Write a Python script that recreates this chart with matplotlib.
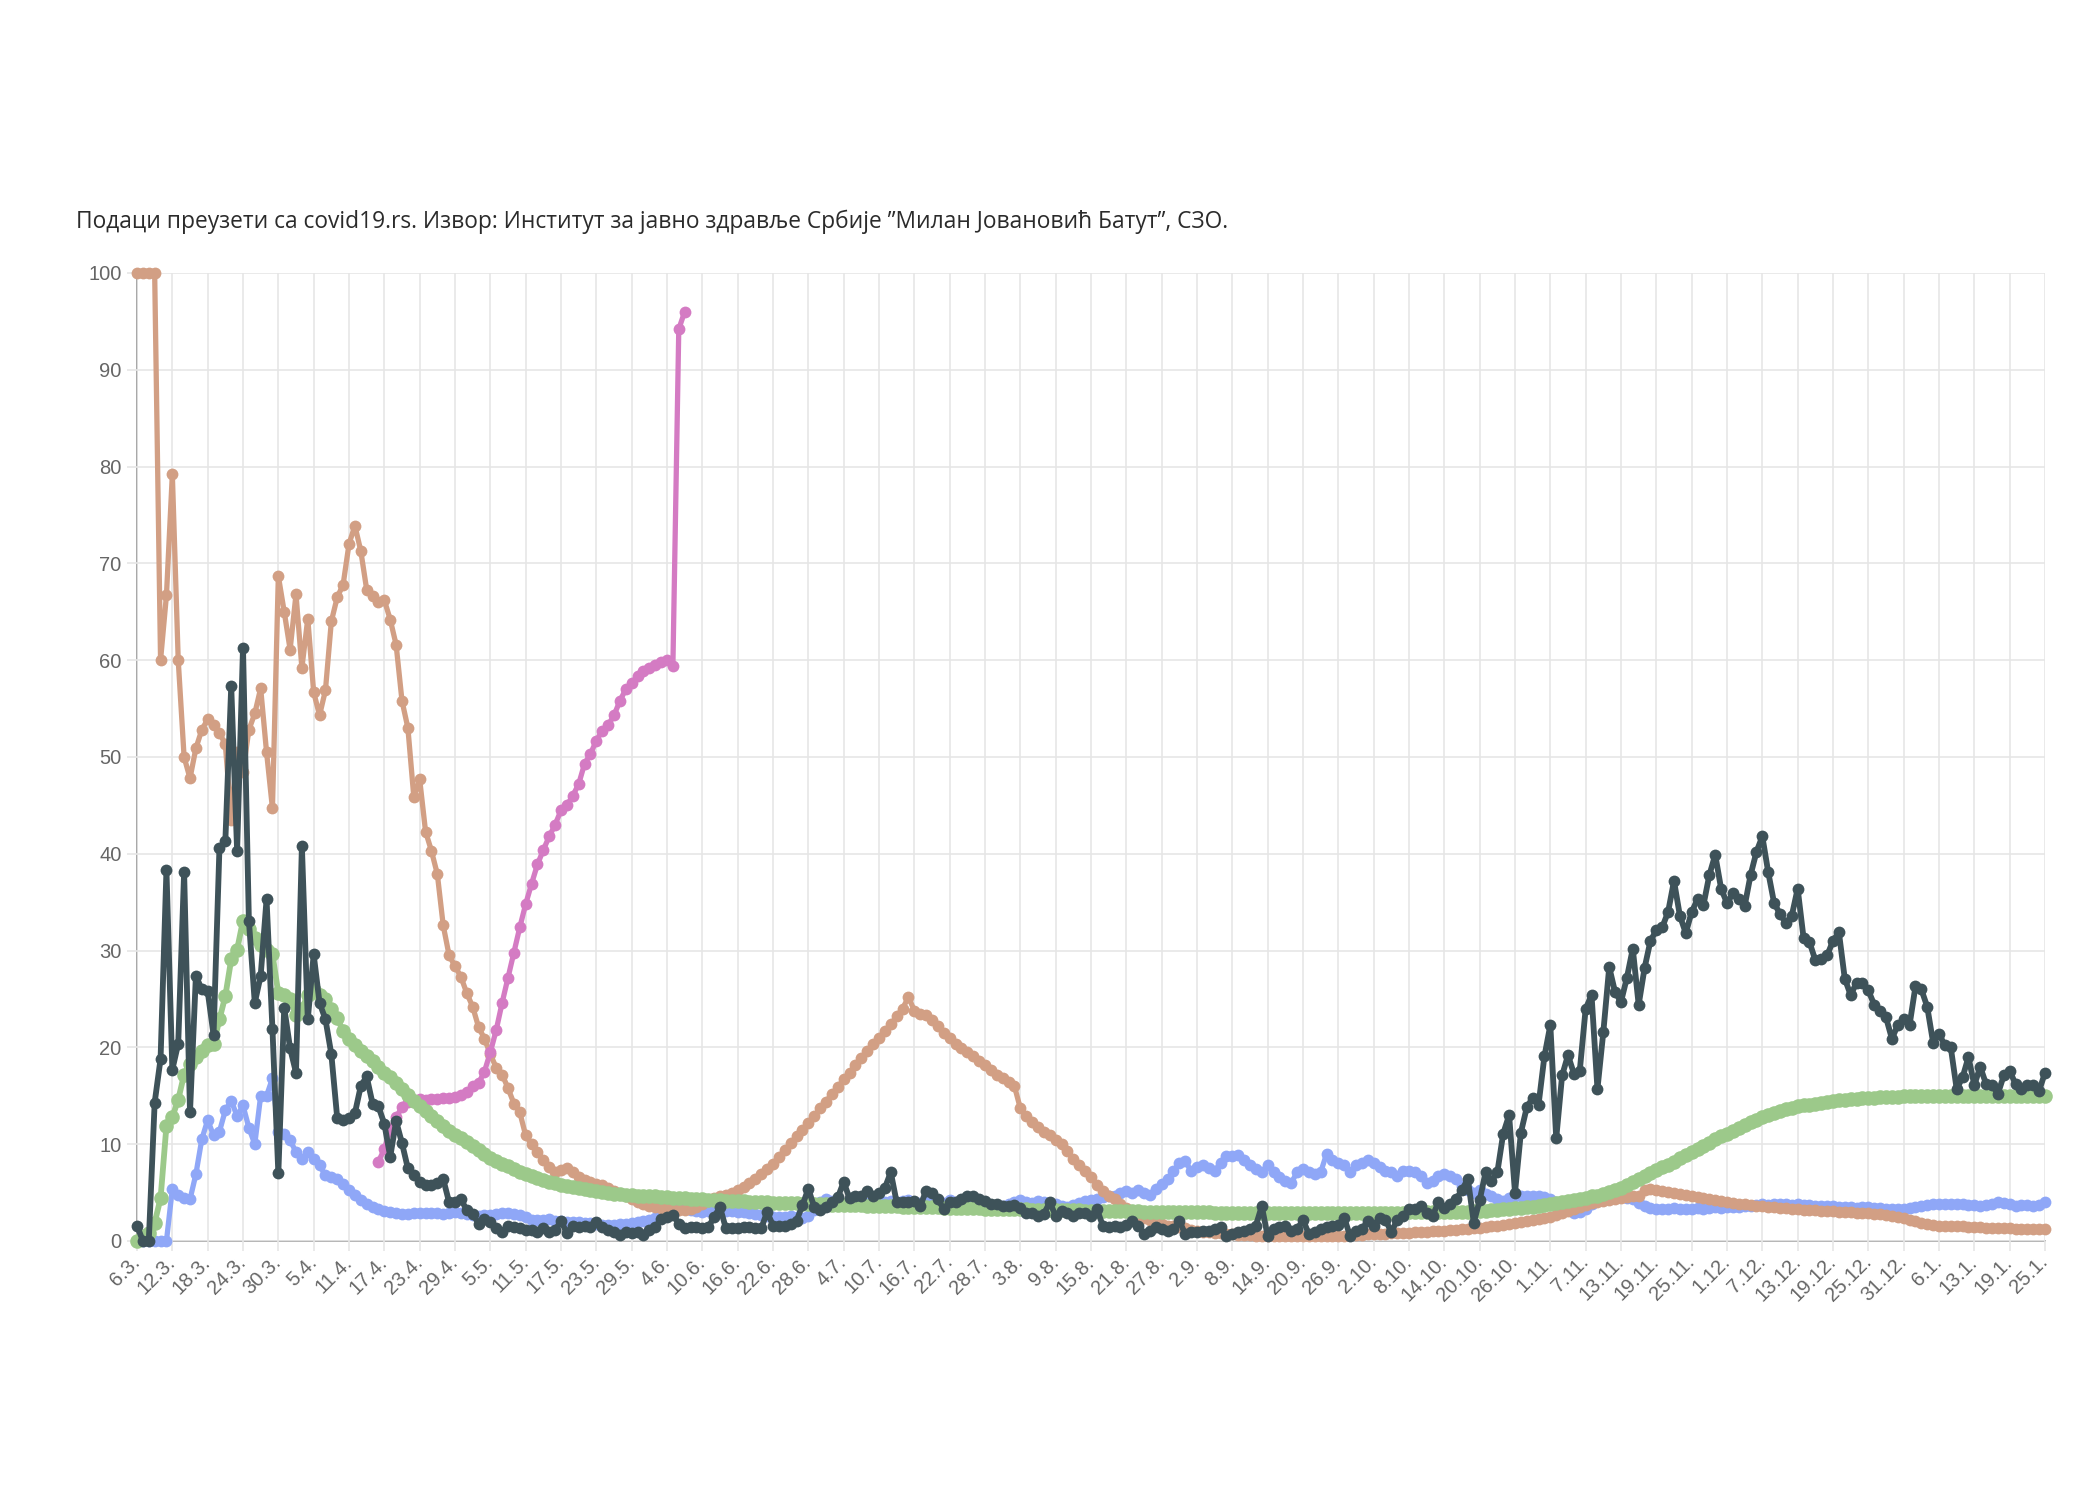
"""
COVID-19 Serbia: daily percentages, 6.3.2020 - 25.1.2021 (Chart.js-style line chart).
"""

import matplotlib
matplotlib.use("Agg")
import matplotlib.pyplot as plt
import numpy as np
import pandas as pd

# ---------------------------------------------------------------------------
# Data (one value per reported day)
# ---------------------------------------------------------------------------

# 6.3.2020 .. 25.1.2021, 7.1.2021 is missing in the source
dates = pd.date_range("2020-03-06", "2021-01-25")
dates = dates[dates != pd.Timestamp("2021-01-07")]
labels = [f"{d.day}.{d.month}." for d in dates]

tan = [
    100, 100, 100, 100, 60.0, 66.7, 79.2, 60.0, 50.0, 47.8,
    50.9, 52.8, 53.9, 53.3, 52.5, 51.3, 43.5, 50.5, 48.5, 52.8,
    54.5, 57.1, 50.5, 44.7, 68.7, 65.0, 61.1, 66.8, 59.2, 64.3,
    56.7, 54.3, 56.9, 64.0, 66.5, 67.8, 72.0, 73.9, 71.3, 67.3,
    66.6, 66.0, 66.2, 64.2, 61.6, 55.8, 53.0, 45.9, 47.7, 42.3,
    40.3, 37.9, 32.6, 29.5, 28.4, 27.3, 25.6, 24.2, 22.1, 20.9,
    19.3, 17.9, 17.2, 15.8, 14.2, 13.3, 10.9, 10.0, 9.2, 8.4,
    7.6, 7.1, 7.3, 7.5, 7.1, 6.6, 6.3, 6.1, 5.9, 5.8,
    5.5, 5.2, 4.9, 4.6, 4.3, 4.0, 3.8, 3.6, 3.5, 3.4,
    3.3, 3.2, 3.2, 3.2, 3.3, 3.5, 3.8, 4.1, 4.4, 4.6,
    4.8, 5.0, 5.3, 5.6, 6.0, 6.4, 6.9, 7.4, 8.0, 8.7,
    9.4, 10.1, 10.8, 11.5, 12.2, 12.9, 13.7, 14.4, 15.2, 15.9,
    16.7, 17.4, 18.2, 18.9, 19.6, 20.3, 21.0, 21.7, 22.4, 23.2,
    24.0, 25.2, 23.8, 23.5, 23.3, 22.8, 22.2, 21.5, 21.0, 20.4,
    19.9, 19.5, 19.1, 18.6, 18.2, 17.7, 17.2, 16.8, 16.4, 16.0,
    13.7, 12.9, 12.3, 11.8, 11.3, 10.9, 10.4, 10.0, 9.3, 8.5,
    7.8, 7.2, 6.6, 5.8, 5.2, 4.7, 4.3, 3.8, 3.4, 3.0,
    2.7, 2.4, 2.2, 2.0, 1.8, 1.6, 1.5, 1.4, 1.3, 1.1,
    1.0, 0.9, 0.9, 0.8, 0.8, 0.7, 0.7, 0.6, 0.6, 0.6,
    0.5, 0.5, 0.5, 0.5, 0.5, 0.5, 0.5, 0.5, 0.5, 0.5,
    0.5, 0.5, 0.5, 0.5, 0.5, 0.5, 0.6, 0.6, 0.6, 0.7,
    0.7, 0.7, 0.7, 0.8, 0.8, 0.8, 0.8, 0.9, 0.9, 0.9,
    1.0, 1.0, 1.0, 1.1, 1.1, 1.2, 1.2, 1.3, 1.3, 1.4,
    1.5, 1.6, 1.7, 1.8, 1.9, 2.0, 2.1, 2.2, 2.3, 2.4,
    2.5, 2.7, 2.9, 3.1, 3.3, 3.5, 3.7, 3.9, 4.0, 4.1,
    4.2, 4.3, 4.4, 4.5, 4.6, 4.7, 5.3, 5.4, 5.3, 5.2,
    5.1, 5.0, 4.9, 4.8, 4.7, 4.5, 4.4, 4.3, 4.2, 4.1,
    4.0, 3.9, 3.8, 3.8, 3.7, 3.6, 3.6, 3.5, 3.5, 3.4,
    3.4, 3.3, 3.3, 3.2, 3.2, 3.2, 3.1, 3.1, 3.1, 3.0,
    3.0, 3.0, 2.9, 2.9, 2.9, 2.8, 2.8, 2.7, 2.6, 2.5,
    2.4, 2.2, 2.1, 1.9, 1.8, 1.7, 1.6, 1.6, 1.5, 1.5,
    1.5, 1.4, 1.4, 1.4, 1.3, 1.3, 1.3, 1.3, 1.3, 1.2,
    1.2, 1.2, 1.2, 1.2, 1.2,
]

# pink series only exists from 17.4. (index 41) to 7.6. (index 93)
pink_start = 41
pink = [
    8.2, 9.5, 11.5, 12.8, 13.8, 14.4, 14.6, 14.7, 14.6,
    14.7, 14.7, 14.8, 14.8, 14.9, 15.1, 15.4, 16.0, 16.3, 17.5,
    19.5, 21.8, 24.6, 27.2, 29.8, 32.4, 34.8, 36.9, 38.9, 40.4,
    41.8, 43.0, 44.5, 45.0, 46.0, 47.2, 49.3, 50.3, 51.7, 52.7,
    53.3, 54.3, 55.8, 57.0, 57.6, 58.4, 58.9, 59.2, 59.5, 59.8,
    60.0, 59.4, 94.2, 96.0,
]

green = [
    0.0, 0.5, 0.8, 1.9, 4.4, 11.9, 12.8, 14.6, 17.2, 18.3,
    19.0, 19.6, 20.2, 20.3, 22.9, 25.3, 29.1, 30.1, 33.1, 32.2,
    31.3, 30.6, 30.1, 29.6, 25.6, 25.4, 25.0, 23.3, 24.0, 25.4,
    25.9, 25.4, 25.0, 24.0, 23.0, 21.7, 20.9, 20.2, 19.6, 19.1,
    18.6, 18.0, 17.4, 16.9, 16.3, 15.7, 15.1, 14.5, 13.9, 13.4,
    12.9, 12.4, 11.9, 11.4, 11.0, 10.6, 10.2, 9.8, 9.4, 9.0,
    8.6, 8.3, 8.0, 7.7, 7.4, 7.1, 6.9, 6.7, 6.5, 6.3,
    6.1, 6.0, 5.8, 5.7, 5.6, 5.5, 5.4, 5.3, 5.2, 5.1,
    5.0, 4.9, 4.9, 4.8, 4.8, 4.7, 4.7, 4.6, 4.6, 4.5,
    4.5, 4.4, 4.4, 4.4, 4.3, 4.3, 4.3, 4.2, 4.2, 4.2,
    4.1, 4.1, 4.1, 4.1, 4.0, 4.0, 4.0, 4.0, 3.9, 3.9,
    3.9, 3.9, 3.9, 3.8, 3.8, 3.8, 3.8, 3.8, 3.7, 3.7,
    3.7, 3.7, 3.7, 3.7, 3.6, 3.6, 3.6, 3.6, 3.6, 3.6,
    3.5, 3.5, 3.5, 3.5, 3.5, 3.5, 3.5, 3.4, 3.4, 3.4,
    3.4, 3.4, 3.4, 3.4, 3.3, 3.3, 3.3, 3.3, 3.3, 3.3,
    3.3, 3.3, 3.2, 3.2, 3.2, 3.2, 3.2, 3.2, 3.2, 3.2,
    3.2, 3.1, 3.1, 3.1, 3.1, 3.1, 3.1, 3.1, 3.1, 3.1,
    3.1, 3.0, 3.0, 3.0, 3.0, 3.0, 3.0, 3.0, 3.0, 3.0,
    3.0, 3.0, 3.0, 2.9, 2.9, 2.9, 2.9, 2.9, 2.9, 2.9,
    2.9, 2.9, 2.9, 2.9, 2.9, 2.9, 2.9, 2.9, 2.9, 2.9,
    2.9, 2.9, 2.9, 2.9, 2.9, 2.9, 2.9, 2.9, 2.9, 2.9,
    2.9, 2.9, 2.9, 2.9, 2.9, 2.9, 3.0, 3.0, 3.0, 3.0,
    3.0, 3.0, 3.0, 3.0, 3.0, 3.0, 3.0, 3.1, 3.1, 3.1,
    3.2, 3.2, 3.3, 3.3, 3.4, 3.4, 3.5, 3.5, 3.6, 3.7,
    3.8, 3.9, 4.0, 4.1, 4.2, 4.3, 4.4, 4.6, 4.7, 4.9,
    5.1, 5.3, 5.5, 5.8, 6.1, 6.4, 6.7, 7.0, 7.3, 7.6,
    7.9, 8.2, 8.6, 8.9, 9.2, 9.5, 9.8, 10.1, 10.5, 10.8,
    11.1, 11.4, 11.7, 12.0, 12.3, 12.5, 12.8, 13.0, 13.2, 13.4,
    13.6, 13.7, 13.9, 14.0, 14.1, 14.2, 14.3, 14.4, 14.5, 14.6,
    14.6, 14.7, 14.7, 14.8, 14.8, 14.8, 14.9, 14.9, 14.9, 14.9,
    15.0, 15.0, 15.0, 15.0, 15.0, 15.0, 15.0, 15.0, 15.0, 15.0,
    15.0, 15.0, 15.0, 15.0, 15.0, 15.0, 15.0, 15.0, 15.0, 15.0,
    15.0, 15.0, 15.0, 15.0, 15.0,
]

blue = [
    0.0, 0.0, 0.0, 0.0, 0.0, 0.0, 5.4, 4.8, 4.4, 4.3,
    6.9, 10.5, 12.5, 10.9, 11.3, 13.5, 14.5, 12.9, 14.0, 11.7,
    10.0, 15.0, 15.0, 16.8, 11.3, 11.1, 10.4, 9.2, 8.5, 9.2,
    8.5, 7.8, 6.8, 6.6, 6.4, 5.9, 5.3, 4.8, 4.2, 3.8,
    3.5, 3.3, 3.1, 3.0, 2.9, 2.8, 2.8, 2.9, 2.9, 2.9,
    2.9, 2.9, 2.8, 2.9, 3.0, 2.9, 2.8, 2.7, 2.6, 2.7,
    2.7, 2.8, 2.9, 2.9, 2.8, 2.7, 2.5, 2.2, 2.2, 2.2,
    2.3, 2.1, 2.1, 2.0, 2.0, 2.0, 1.9, 1.9, 1.8, 1.7,
    1.7, 1.7, 1.8, 1.8, 1.9, 2.0, 2.1, 2.2, 2.4, 2.9,
    3.3, 3.5, 3.4, 3.3, 3.2, 3.1, 3.0, 3.1, 3.1, 3.2,
    3.1, 3.1, 3.0, 3.0, 2.9, 2.8, 2.7, 2.6, 2.5, 2.5,
    2.5, 2.6, 2.5, 2.4, 2.6, 3.2, 4.0, 4.3, 4.1, 3.9,
    3.8, 3.9, 4.1, 4.0, 3.9, 3.8, 3.9, 4.0, 4.1, 4.0,
    4.1, 4.2, 4.0, 3.9, 4.0, 4.1, 4.0, 3.9, 4.2, 4.0,
    3.8, 3.7, 3.6, 3.7, 3.8, 3.5, 3.4, 3.6, 3.8, 4.0,
    4.2, 4.0, 3.9, 4.1, 4.0, 3.9, 3.8, 3.6, 3.5, 3.7,
    3.9, 4.1, 4.2, 4.3, 4.5, 4.6, 4.7, 5.0, 5.2, 5.0,
    5.3, 5.0, 4.8, 5.4, 5.9, 6.4, 7.2, 8.1, 8.3, 7.2,
    7.6, 7.8, 7.5, 7.2, 8.1, 8.8, 8.8, 8.9, 8.4, 7.9,
    7.4, 7.1, 7.8, 7.1, 6.6, 6.2, 6.0, 7.1, 7.4, 7.1,
    6.9, 7.1, 9.0, 8.4, 8.1, 7.8, 7.1, 7.8, 8.1, 8.4,
    8.1, 7.6, 7.2, 7.1, 6.7, 7.2, 7.2, 7.1, 6.7, 6.0,
    6.2, 6.7, 6.9, 6.7, 6.4, 5.7, 5.3, 5.0, 5.3, 4.9,
    4.6, 4.3, 4.1, 4.4, 4.6, 4.7, 4.7, 4.6, 4.6, 4.5,
    4.3, 4.0, 3.6, 3.3, 2.9, 3.0, 3.3, 3.8, 4.2, 4.3,
    4.4, 4.5, 4.5, 4.4, 4.3, 3.9, 3.6, 3.4, 3.3, 3.3,
    3.3, 3.4, 3.3, 3.3, 3.3, 3.4, 3.3, 3.4, 3.5, 3.4,
    3.5, 3.5, 3.5, 3.6, 3.6, 3.7, 3.8, 3.7, 3.8, 3.8,
    3.8, 3.7, 3.8, 3.7, 3.7, 3.6, 3.6, 3.6, 3.6, 3.5,
    3.5, 3.5, 3.4, 3.5, 3.5, 3.4, 3.4, 3.3, 3.3, 3.3,
    3.3, 3.4, 3.5, 3.6, 3.7, 3.8, 3.8, 3.8, 3.8, 3.8,
    3.8, 3.7, 3.7, 3.6, 3.7, 3.8, 4.0, 3.9, 3.8, 3.6,
    3.7, 3.7, 3.6, 3.7, 4.0,
]

dark = [
    1.6, 0.0, 0.0, 14.3, 18.8, 38.3, 17.7, 20.4, 38.1, 13.3,
    27.4, 26.0, 25.8, 21.3, 40.6, 41.3, 57.3, 40.3, 61.3, 33.1,
    24.6, 27.4, 35.3, 21.9, 7.0, 24.1, 19.9, 17.4, 40.8, 22.9,
    29.6, 24.6, 22.9, 19.3, 12.7, 12.5, 12.7, 13.2, 16.0, 17.0,
    14.2, 13.9, 12.1, 8.7, 12.4, 10.1, 7.5, 6.8, 6.1, 5.8,
    5.8, 6.0, 6.4, 4.0, 4.0, 4.3, 3.2, 2.8, 1.8, 2.3,
    2.0, 1.3, 0.9, 1.6, 1.4, 1.3, 1.1, 1.1, 0.9, 1.3,
    0.9, 1.1, 2.1, 0.8, 1.6, 1.4, 1.6, 1.4, 2.0, 1.4,
    1.1, 0.9, 0.6, 0.9, 0.8, 0.9, 0.6, 1.1, 1.4, 2.3,
    2.5, 2.7, 1.8, 1.3, 1.4, 1.4, 1.3, 1.4, 2.5, 3.5,
    1.3, 1.3, 1.3, 1.4, 1.4, 1.3, 1.3, 3.0, 1.6, 1.6,
    1.6, 1.8, 2.1, 3.7, 5.4, 3.5, 3.2, 3.5, 4.0, 4.5,
    6.1, 4.4, 4.6, 4.6, 5.2, 4.7, 5.0, 5.5, 7.1, 4.0,
    4.0, 4.0, 4.1, 3.6, 5.2, 5.0, 4.3, 3.3, 4.0, 4.0,
    4.3, 4.7, 4.7, 4.3, 4.1, 3.8, 3.8, 3.6, 3.6, 3.7,
    3.4, 2.9, 2.9, 2.6, 2.8, 4.0, 2.6, 3.1, 2.9, 2.6,
    2.9, 2.9, 2.6, 3.3, 1.6, 1.4, 1.6, 1.4, 1.7, 2.1,
    1.6, 0.7, 1.0, 1.4, 1.2, 1.0, 1.2, 2.1, 0.7, 0.9,
    0.9, 1.0, 1.0, 1.2, 1.4, 0.5, 0.7, 0.9, 1.0, 1.2,
    1.6, 3.6, 0.5, 1.2, 1.4, 1.6, 1.0, 1.2, 2.2, 0.7,
    0.9, 1.2, 1.4, 1.6, 1.7, 2.4, 0.5, 1.0, 1.2, 2.1,
    1.6, 2.4, 2.2, 0.9, 2.2, 2.6, 3.3, 3.3, 3.6, 2.9,
    2.6, 4.0, 3.4, 3.8, 4.3, 5.3, 6.4, 1.9, 4.2, 7.1,
    6.2, 7.1, 11.1, 13.0, 5.0, 11.2, 13.8, 14.8, 14.1, 19.1,
    22.3, 10.6, 17.1, 19.2, 17.3, 17.6, 24.0, 25.4, 15.7, 21.6,
    28.3, 25.7, 24.7, 27.2, 30.2, 24.4, 28.2, 31.0, 32.1, 32.4,
    34.0, 37.2, 33.6, 31.8, 34.0, 35.3, 34.7, 37.8, 39.9, 36.4,
    34.9, 35.9, 35.3, 34.6, 37.8, 40.2, 41.8, 38.1, 34.9, 33.8,
    32.8, 33.6, 36.4, 31.3, 30.9, 29.0, 29.1, 29.5, 31.0, 31.9,
    27.1, 25.4, 26.7, 26.7, 25.9, 24.4, 23.8, 23.1, 20.9, 22.3,
    22.9, 22.3, 26.3, 26.0, 24.2, 20.5, 21.4, 20.2, 20.0, 15.7,
    16.9, 19.0, 16.1, 18.0, 16.2, 16.1, 15.2, 17.1, 17.6, 16.2,
    15.7, 16.1, 16.1, 15.5, 17.4,
]

yticks = list(range(0, 101, 10))
title = ("Подаци преузети са covid19.rs. Извор: Институт за јавно здравље Србије "
         "”Милан Јовановић Батут”, СЗО.")

# ---------------------------------------------------------------------------
# Style
# ---------------------------------------------------------------------------

C_DARK = "#3e5259"
C_GREEN = "#9cc98a"
C_BLUE = "#8fa7f7"
C_TAN = "#d29f84"
C_PINK = "#d47bc3"
GRID = "#e6e6e6"
TICK_TEXT = "#666666"

plt.rcParams["font.family"] = ["Liberation Sans", "DejaVu Sans"]

n = len(labels)
x = np.arange(n)

fig = plt.figure(figsize=(21, 15), dpi=100)
ax = fig.add_axes([137 / 2100, 1 - 1241 / 1500, (2045 - 137) / 2100, (1241 - 273) / 1500])

# (values, first index, colour, line width, marker size, z-order)
series = [
    (blue, 0, C_BLUE, 3.8, 8.5, 1),
    (tan, 0, C_TAN, 3.8, 8.5, 2),
    (pink, pink_start, C_PINK, 3.8, 8.5, 3),
    (green, 0, C_GREEN, 4.2, 10.5, 4),
    (dark, 0, C_DARK, 4.2, 8.5, 5),
]
for values, start, colour, lw, ms, z in series:
    xs = x[start:start + len(values)]
    ax.plot(xs, values, color=colour, linewidth=lw, marker="o", markersize=ms,
            markeredgewidth=0, zorder=z, clip_on=False)

ax.set_xlim(0, n - 1)
ax.set_ylim(0, 100)

ax.set_xticks(x[::6])
ax.set_xticklabels(labels[::6], rotation=45, ha="right", va="center",
                   rotation_mode="anchor")
ax.set_yticks(yticks)
ax.set_yticklabels([str(v) for v in yticks])

ax.grid(True, color=GRID, linewidth=1.2)
ax.set_axisbelow(True)
ax.tick_params(axis="both", length=7, width=1.2, color=GRID,
               labelcolor=TICK_TEXT, labelsize=14.5)
ax.tick_params(axis="x", pad=6)
ax.tick_params(axis="y", pad=4)

for side in ("top", "right"):
    ax.spines[side].set_visible(False)
ax.spines["left"].set_color("#a0a0a0")
ax.spines["left"].set_linewidth(1.3)
ax.spines["bottom"].set_color("#b0b0b0")
ax.spines["bottom"].set_linewidth(1.3)
ax.spines["left"].set_zorder(0.5)
ax.spines["bottom"].set_zorder(0.5)

fig.text(76 / 2100, 1 - 222 / 1500, title, ha="left", va="center",
         fontsize=16.4, color="#2b2b2b", family=["Open Sans", "DejaVu Sans"])

fig.savefig("out.png", dpi=100, facecolor="white")
